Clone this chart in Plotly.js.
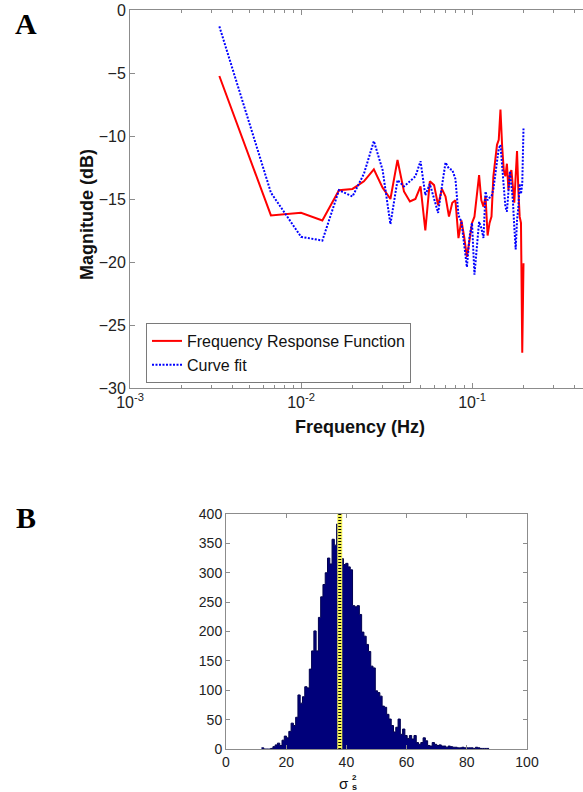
<!DOCTYPE html>
<html>
<head>
<meta charset="utf-8">
<script src="https://cdn.plot.ly/plotly-3.0.1.min.js"></script>
<style>
html,body{margin:0;padding:0;background:#fff;}
#chart{width:583px;height:792px;}
</style>
</head>
<body>
<div id="chart"></div>
<script>
// ---------- Panel A data ----------
const freqHz = [0.00333,0.00667,0.01,0.01333,0.01667,0.02,0.02333,0.02667,0.03,0.03333,
  0.03667,0.04,0.04333,0.04667,0.05,0.05333,0.05667,0.06,0.06333,0.06667,
  0.07,0.07333,0.07667,0.08,0.08333,0.08667,0.09,0.09333,0.09667,0.1,
  0.10333,0.10667,0.11,0.11333,0.11667,0.12,0.12333,0.12667,0.13,0.13333,
  0.13667,0.14,0.14333,0.14667,0.15,0.15333,0.15667,0.16,0.16333,0.16667,
  0.17,0.17333,0.17667,0.18,0.18333,0.18667,0.19,0.19333,0.19667,0.2];
const frfDb = [-5.24,-16.3,-16.1,-16.7,-14.3,-14.2,-13.6,-12.65,-14.1,-15.0,
  -11.9,-14.4,-15.2,-15.0,-14.0,-17.5,-13.6,-13.9,-15.5,-14.2,
  -14.8,-16.4,-15.3,-15.1,-18.1,-16.7,-18.0,-19.6,-18.3,-16.9,
  -16.4,-14.8,-13.1,-15.1,-15.6,-14.8,-17.9,-16.9,-16.4,-13.2,
  -11.9,-10.7,-10.3,-7.9,-10.8,-12.7,-13.2,-12.2,-14.3,-13.0,
  -12.7,-14.3,-15.3,-13.2,-11.2,-14.3,-16.4,-16.9,-27.2,-20.1];
const fitDb = [-1.3,-14.5,-18.0,-18.3,-14.3,-14.8,-13.0,-10.4,-12.7,-17.0,
  -13.5,-14.0,-13.6,-13.2,-12.0,-14.7,-13.8,-14.9,-16.1,-14.0,
  -12.1,-12.6,-12.7,-13.4,-16.3,-16.8,-18.5,-20.4,-18.0,-16.9,
  -21.0,-18.8,-16.8,-17.3,-18.1,-14.4,-15.1,-14.9,-14.8,-14.2,
  -13.0,-12.2,-11.0,-10.7,-12.4,-14.3,-15.6,-16.0,-14.3,-12.8,
  -14.0,-15.1,-17.2,-19.0,-16.7,-15.6,-13.8,-14.6,-13.8,-9.4];
const seriesNames = ['Frequency Response Function','Curve fit'];
const xTickVals = [0.001,0.01,0.1,1];
const xTickText = ['10<sup>-3</sup>','10<sup>-2</sup>','10<sup>-1</sup>','10<sup>0</sup>'];

// ---------- Panel B data ----------
const binStart = 11.8;
const binWidth = 0.756;
const binCounts = [2,0,0,0,1,4,7,10,6,15,
  22,19,30,44,40,54,92,78,89,106,
  104,136,167,201,167,224,259,280,300,325,
  315,357,347,383,360,324,314,316,310,305,
  244,242,244,229,199,192,178,166,141,138,
  99,96,90,73,71,59,51,40,29,37,
  51,25,34,23,18,23,17,23,11,8,
  11,19,14,6,5,11,8,6,7,5,
  5,3,5,4,3,3,2,2,3,2,
  2,2,2,1,3,2,1,1,1,1];
const meanValue = 37.8;
const meanLineTop = 400;

// histogram drawn as a stepped filled outline (bin left edges + final right edge)
const binEdges = binCounts.map((_, i) => binStart + binWidth * i);
binEdges.push(binStart + binWidth * binCounts.length);
const stepCounts = binCounts.concat([binCounts[binCounts.length - 1]]);

// minor ticks for log axis (styling only)
const minorVals = [];
[0.001,0.01,0.1].forEach(d => { for (let m = 2; m <= 9; m++) minorVals.push(d*m); });

const W = 583, H = 792;
const px = x => x / W;
const py = y => 1 - y / H;

const axisColor = '#8c8c8c';
const tickFontA = {family:'Liberation Sans, Arial, sans-serif', size:16, color:'#222'};
const tickFontB = {family:'Liberation Sans, Arial, sans-serif', size:14, color:'#222'};

const traces = [
  {x: freqHz, y: frfDb, name: seriesNames[0], type:'scatter', mode:'lines',
   line:{color:'#ff0000', width:2}, xaxis:'x', yaxis:'y'},
  {x: freqHz, y: fitDb, name: seriesNames[1], type:'scatter', mode:'lines',
   line:{color:'#0000ff', width:2, dash:'2px,1.5px'}, xaxis:'x', yaxis:'y'},
  {x: binEdges, y: stepCounts, type:'scatter', mode:'lines', fill:'tozeroy',
   fillcolor:'#00007a', line:{color:'#000050', width:1, shape:'hv'},
   xaxis:'x2', yaxis:'y2', showlegend:false, hoverinfo:'skip'},
  {x: [meanValue, meanValue], y: [0, meanLineTop], type:'scatter', mode:'lines',
   line:{color:'#f7f45a', width:5}, xaxis:'x2', yaxis:'y2', showlegend:false, hoverinfo:'skip'},
  {x: [meanValue, meanValue], y: [0, meanLineTop], type:'scatter', mode:'lines',
   line:{color:'#000000', width:3, dash:'1px,2px'}, xaxis:'x2', yaxis:'y2', showlegend:false, hoverinfo:'skip'}
];

const layout = {
  width: W, height: H,
  margin:{l:0, r:0, t:0, b:0},
  paper_bgcolor:'#ffffff', plot_bgcolor:'#ffffff',
  showlegend:true,
  legend:{x: px(146), y: py(323), xanchor:'left', yanchor:'top',
    bgcolor:'#ffffff', bordercolor:'#7a7a7a', borderwidth:1,
    font:{family:'Liberation Sans, Arial, sans-serif', size:16, color:'#111'},
    itemwidth:30, tracegroupgap:0},
  xaxis:{type:'log', domain:[px(130), 1], anchor:'y', range:[-3, -0.351],
    tickmode:'array', tickvals:xTickVals, ticktext:xTickText,
    ticks:'inside', ticklen:5, tickcolor:axisColor, showline:true, linecolor:axisColor, linewidth:1,
    mirror:'ticks', showgrid:false, zeroline:false, tickfont:tickFontA,
    minor:{tickmode:'array', tickvals:minorVals, ticks:'inside', ticklen:3, tickcolor:axisColor, showgrid:false}},
  yaxis:{domain:[py(388), py(10)], anchor:'x', range:[-30, 0], dtick:5, tick0:0,
    ticks:'inside', ticklen:5, tickcolor:axisColor, showline:true, linecolor:axisColor, linewidth:1,
    showgrid:false, zeroline:false, tickfont:tickFontA},
  xaxis2:{domain:[px(226), px(527)], anchor:'y2', range:[0, 100], dtick:20, tick0:0,
    ticks:'inside', ticklen:4, tickcolor:axisColor, showline:true, linecolor:axisColor, linewidth:1,
    mirror:'ticks', showgrid:false, zeroline:false, tickfont:tickFontB},
  yaxis2:{domain:[py(749), py(514)], anchor:'x2', range:[0, 400], dtick:50, tick0:0,
    ticks:'inside', ticklen:4, tickcolor:axisColor, showline:true, linecolor:axisColor, linewidth:1,
    mirror:'ticks', showgrid:false, zeroline:false, tickfont:tickFontB},
  annotations:[
    {text:'<b>Frequency (Hz)</b>', xref:'paper', yref:'paper', x:px(360), y:py(427),
     xanchor:'center', yanchor:'middle', showarrow:false,
     font:{family:'Liberation Sans, Arial, sans-serif', size:18, color:'#111'}},
    {text:'<b>Magnitude (dB)</b>', xref:'paper', yref:'paper', x:px(87), y:py(215),
     xanchor:'center', yanchor:'middle', showarrow:false, textangle:-90,
     font:{family:'Liberation Sans, Arial, sans-serif', size:18, color:'#111'}},
    {text:'<b>A</b>', xref:'paper', yref:'paper', x:px(26), y:py(24),
     xanchor:'center', yanchor:'middle', showarrow:false,
     font:{family:'Liberation Serif, Times New Roman, serif', size:30, color:'#000'}},
    {text:'<b>B</b>', xref:'paper', yref:'paper', x:px(26), y:py(517),
     xanchor:'center', yanchor:'middle', showarrow:false,
     font:{family:'Liberation Serif, Times New Roman, serif', size:30, color:'#000'}},
    {text:'σ', xref:'paper', yref:'paper', x:px(344), y:py(783),
     xanchor:'center', yanchor:'middle', showarrow:false,
     font:{family:'Liberation Sans, Arial, sans-serif', size:15, color:'#111'}},
    {text:'<b>2</b>', xref:'paper', yref:'paper', x:px(350), y:py(777),
     xanchor:'left', yanchor:'middle', showarrow:false,
     font:{family:'Liberation Sans, Arial, sans-serif', size:8, color:'#111'}},
    {text:'<b>s</b>', xref:'paper', yref:'paper', x:px(350), y:py(787),
     xanchor:'left', yanchor:'middle', showarrow:false,
     font:{family:'Liberation Sans, Arial, sans-serif', size:9, color:'#111'}}
  ]
};

Plotly.newPlot('chart', traces, layout, {displayModeBar:false, staticPlot:true});
</script>
</body>
</html>
